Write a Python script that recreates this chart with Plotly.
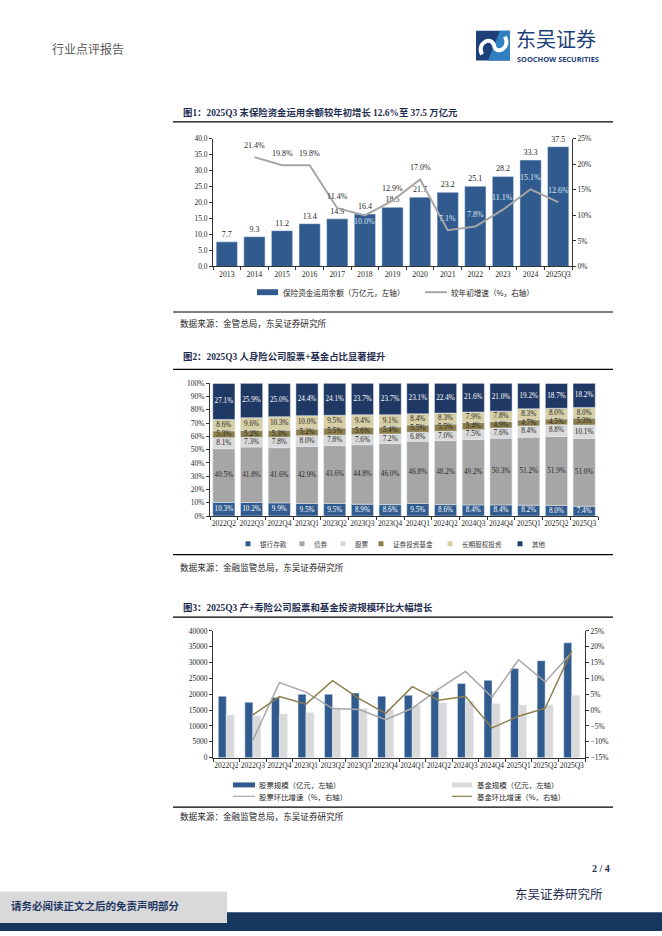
import plotly.graph_objects as go

W, H = 662, 936
SERIF = "Times New Roman, Liberation Serif, Noto Sans CJK SC, serif"
CJK = "Noto Sans CJK SC, sans-serif"

# ---------- 图1：保险资金运用余额 ----------
years = ["2013", "2014", "2015", "2016", "2017", "2018", "2019", "2020",
         "2021", "2022", "2023", "2024", "2025Q3"]
fund_balance = [7.7, 9.3, 11.2, 13.4, 14.9, 16.4, 18.5, 21.7, 23.2, 25.1, 28.2, 33.3, 37.5]
ytd_growth = [None, 21.4, 19.8, 19.8, 11.4, 10.0, 12.9, 17.0, 7.1, 7.8, 11.1, 15.1, 12.6]

# ---------- 图2：人身险公司资产配置占比 ----------
quarters = ["2022Q2", "2022Q3", "2022Q4", "2023Q1", "2023Q2", "2023Q3", "2023Q4",
            "2024Q1", "2024Q2", "2024Q3", "2024Q4", "2025Q1", "2025Q2", "2025Q3"]
bank_deposit = [10.3, 10.2, 9.9, 9.5, 9.5, 8.9, 8.6, 9.5, 8.6, 8.4, 8.4, 8.2, 8.0, 7.4]
bonds = [40.5, 41.8, 41.6, 42.9, 43.6, 44.8, 46.0, 46.8, 48.2, 49.2, 50.3, 51.2, 51.9, 51.0]
stocks = [8.1, 7.3, 7.8, 8.0, 7.8, 7.6, 7.2, 6.8, 7.0, 7.5, 7.6, 8.4, 8.8, 10.1]
sec_funds = [5.3, 5.2, 5.3, 5.2, 5.5, 5.6, 5.4, 5.5, 5.5, 5.4, 4.9, 4.7, 4.5, 5.3]
lt_equity = [8.6, 9.6, 10.3, 10.0, 9.5, 9.4, 9.1, 8.4, 8.3, 7.9, 7.8, 8.3, 8.0, 8.0]
others = [27.1, 25.9, 25.0, 24.4, 24.1, 23.7, 23.7, 23.1, 22.4, 21.6, 21.0, 19.2, 18.7, 18.2]
mix_names = ["银行存款", "债券", "股票", "证券投资基金", "长期股权投资", "其他"]

# ---------- 图3：产+寿险公司股票和基金规模 ----------
stock_scale = [19400, 17500, 19000, 20000, 20000, 20400, 19400,
               19700, 20900, 23400, 24400, 28100, 30600, 36250]
fund_scale = [13500, 13200, 13800, 14200, 15600, 15500, 15300,
              16500, 17300, 17800, 17000, 16600, 16600, 19700]
stock_qoq = [None, -9.5, 8.7, 5.7, 0.5, 0.2, -3.0, 0.6, 6.7, 12.2, 4.1, 15.9, 8.9, 18.2]
fund_qoq = [None, -1.5, 4.3, 1.9, 9.3, 3.6, -1.0, 7.4, 3.1, 4.4, -5.6, -1.9, 0.6, 18.7]

BLUE = "#315b8e"
NAVY = "#1f3864"
GREY = "#a6a6a6"
LIGHT = "#d9d9d9"
OLIVE = "#8c7f4c"
BEIGE = "#d6cea5"
TITLE = "#1f2d50"


def px(x):
    return x / W


def py(y):
    return 1 - y / H


shapes = []
annotations = []


def hline(y, x0=173, x1=613, w=1.2, color="#000000"):
    shapes.append(dict(type="line", xref="paper", yref="paper", x0=px(x0), x1=px(x1),
                       y0=py(y), y1=py(y), line=dict(color=color, width=w)))


def rect(x0, y0, x1, y1, color):
    shapes.append(dict(type="rect", xref="paper", yref="paper", x0=px(x0), x1=px(x1),
                       y0=py(y1), y1=py(y0), fillcolor=color, line=dict(width=0), layer="below"))


def label(x, y, s, size, color="#262626", font=CJK, anchor="left"):
    annotations.append(dict(x=px(x), y=py(y), xref="paper", yref="paper", text=s,
                            showarrow=False, xanchor=anchor, yanchor="middle",
                            font=dict(size=size, color=color, family=font)))


fig = go.Figure()

# ---- 图1 traces
fig.add_trace(go.Bar(x=years, y=fund_balance, marker_color=BLUE, width=0.77, offset=-0.385,
                     texttemplate="%{y:.1f}", textposition="outside",
                     textfont=dict(size=8, color="#262626", family=SERIF),
                     cliponaxis=False, xaxis="x", yaxis="y", showlegend=False))
fig.add_trace(go.Scatter(x=years, y=ytd_growth, mode="lines",
                         line=dict(color=GREY, width=2),
                         xaxis="x", yaxis="y2", showlegend=False))
# growth labels: light text where they sit on a bar, dark otherwise
on_bar = {"2018", "2021", "2022", "2023", "2024", "2025Q3"}
for i, (yr, v) in enumerate(zip(years, ytd_growth)):
    if v is None:
        continue
    annotations.append(dict(x=i, y=v, xref="x", yref="y2", text=f"{v:.1f}%",
                            showarrow=False, yshift=-6 if yr == "2018" else 12,
                            font=dict(size=8, family=SERIF,
                                      color="#dce6f2" if yr in on_bar else "#262626")))

# ---- 图2 traces (stacked by explicit base, labels at segment middles)
mix_series = [bank_deposit, bonds, stocks, sec_funds, lt_equity, others]
mix_colors = [BLUE, GREY, LIGHT, OLIVE, BEIGE, NAVY]
mix_text = ["#ffffff", "#262626", "#262626", "#262626", "#262626", "#ffffff"]
base = [0.0] * len(quarters)
for name, vals, col, tcol in zip(mix_names, mix_series, mix_colors, mix_text):
    fig.add_trace(go.Bar(x=quarters, y=vals, base=list(base), name=name, marker_color=col,
                         width=0.8, offset=-0.4, offsetgroup="mix",
                         xaxis="x2", yaxis="y3", showlegend=False))
    fig.add_trace(go.Scatter(x=quarters, y=[b + v / 2 for b, v in zip(base, vals)],
                             mode="text", text=[f"{v:.1f}%" for v in vals],
                             textfont=dict(size=7.2, color=tcol, family=SERIF),
                             xaxis="x2", yaxis="y3", showlegend=False, hoverinfo="skip"))
    base = [b + v for b, v in zip(base, vals)]

# ---- 图3 traces
fig.add_trace(go.Bar(x=quarters, y=stock_scale, marker_color=BLUE, offsetgroup="st",
                     xaxis="x3", yaxis="y4", showlegend=False))
fig.add_trace(go.Bar(x=quarters, y=fund_scale, marker_color=LIGHT, offsetgroup="fd",
                     xaxis="x3", yaxis="y4", showlegend=False))
fig.add_trace(go.Scatter(x=quarters, y=stock_qoq, mode="lines", line=dict(color=GREY, width=1.5),
                         xaxis="x3", yaxis="y5", showlegend=False))
fig.add_trace(go.Scatter(x=quarters, y=fund_qoq, mode="lines", line=dict(color=OLIVE, width=1.5),
                         xaxis="x3", yaxis="y5", showlegend=False))

axis_common = dict(showline=True, linecolor="#333333", linewidth=1, showgrid=False,
                   zeroline=False, ticks="outside", ticklen=3, tickcolor="#333333",
                   tickfont=dict(size=7.5, color="#262626", family=SERIF))
xcat = dict(axis_common, type="category", tickson="boundaries", tickangle=0,
            tickfont=dict(size=7.5, color="#262626", family=SERIF))

fig.update_layout(
    width=W, height=H,
    margin=dict(l=0, r=0, t=0, b=0),
    paper_bgcolor="white", plot_bgcolor="rgba(0,0,0,0)",
    barmode="group", bargap=0.4, bargroupgap=0,
    xaxis=dict(xcat, domain=[px(213), px(572)], anchor="y",
               range=[-0.5, len(years) - 0.5],
               tickfont=dict(size=7.8, color="#262626", family=SERIF)),
    yaxis=dict(axis_common, domain=[py(265), py(136)], range=[0, 40], dtick=5,
               tickformat=".1f", anchor="x"),
    yaxis2=dict(axis_common, overlaying="y", side="right", range=[0, 25], dtick=5,
                ticksuffix="%", anchor="x"),
    xaxis2=dict(xcat, domain=[px(210), px(598)], anchor="y3",
                range=[-0.5, len(quarters) - 0.5]),
    yaxis3=dict(axis_common, domain=[py(517), py(383)], range=[0, 100], dtick=10,
                ticksuffix="%", anchor="x2"),
    xaxis3=dict(xcat, domain=[px(213), px(585)], anchor="y4",
                range=[-0.5, len(quarters) - 0.5]),
    yaxis4=dict(axis_common, domain=[py(761), py(633)], range=[0, 40000], dtick=5000,
                tickformat="d", anchor="x3"),
    yaxis5=dict(axis_common, overlaying="y4", side="right", range=[-15, 25], dtick=5,
                ticksuffix="%", anchor="x3"),
)

# ---- page header
label(50, 45, "行业点评报告", 12, "#595959")
rect(476, 27, 510, 57, "#1d4079")
shapes.append(dict(type="path", xref="paper", yref="paper", fillcolor="#2f7fc1",
                   line=dict(width=0),
                   path=f"M {px(500)},{py(27)} L {px(510)},{py(27)} L {px(510)},{py(57)} "
                        f"L {px(488)},{py(57)} Z"))
shapes.append(dict(type="path", xref="paper", yref="paper",
                   line=dict(color="white", width=4),
                   path=f"M {px(482)},{py(51)} C {px(476)},{py(39)} {px(492)},{py(32)} "
                        f"{px(494)},{py(42)} C {px(496)},{py(52)} {px(511)},{py(45)} "
                        f"{px(505)},{py(33)}"))
label(514, 35, "东吴证券", 20, "#1d4079")
label(515, 56, "<b>SOOCHOW SECURITIES</b>", 7.4, "#1d4079", "Open Sans, sans-serif")

# ---- 图1 frame
label(181, 110, "<b>图1：2025Q3 末保险资金运用余额较年初增长 12.6%至 37.5 万亿元</b>", 9.4,
      TITLE, SERIF)
hline(119)
rect(257, 288, 278, 294, BLUE)
label(281, 291, "保险资金运用余额（万亿元，左轴）", 7.6, "#262626")
hline(291, 425, 447, 2, GREY)
label(449, 291, "较年初增速（%，右轴）", 7.6, "#262626")
hline(311)
label(178, 322, "数据来源：金管总局，东吴证券研究所", 8.6, "#262626")

# ---- 图2 frame
label(181, 356, "<b>图2：2025Q3 人身险公司股票+基金占比显著提升</b>", 9.4, TITLE, SERIF)
hline(369)
legend2_x = [248, 302, 343, 381, 450, 520]
for lx, name, col in zip(legend2_x, mix_names, mix_colors):
    rect(lx - 2.5, 542.5, lx + 2.5, 547.5, col)
    label(lx + 10, 545, name, 6.6, "#404040")
hline(556)
label(178, 568, "数据来源：金融监管总局，东吴证券研究所", 8.6, "#262626")

# ---- 图3 frame
label(181, 609, "<b>图3：2025Q3 产+寿险公司股票和基金投资规模环比大幅增长</b>", 9.4,
      TITLE, SERIF)
hline(619)
rect(233, 786, 255, 791, BLUE)
label(257, 788.5, "股票规模（亿元，左轴）", 7.4, "#262626")
rect(452, 786, 472, 791, LIGHT)
label(475, 788.5, "基金规模（亿元，左轴）", 7.4, "#262626")
hline(800, 233, 255, 1.2, GREY)
label(257, 800, "股票环比增速（%，右轴）", 7.4, "#262626")
hline(800, 452, 472, 1.2, OLIVE)
label(475, 800, "基金环比增速（%，右轴）", 7.4, "#262626")
hline(811)
label(178, 820, "数据来源：金融监管总局，东吴证券研究所", 8.6, "#262626")

# ---- page footer
label(612, 873, "<b>2 / 4</b>", 10, TITLE, SERIF, "right")
label(605, 898, "东吴证券研究所", 12.5, TITLE, CJK, "right")
rect(0, 917, 662, 936, "#17375e")
shapes.append(dict(type="rect", xref="paper", yref="paper", x0=0, x1=px(227),
                   y0=py(928), y1=py(896), fillcolor=LIGHT, line=dict(width=0)))
label(9, 910, "<b>请务必阅读正文之后的免责声明部分</b>", 10.5, NAVY)

fig.update_layout(shapes=shapes, annotations=annotations)
fig.write_html("out.html", config={"displayModeBar": False},
               post_script="document.body.style.margin='0px';")
